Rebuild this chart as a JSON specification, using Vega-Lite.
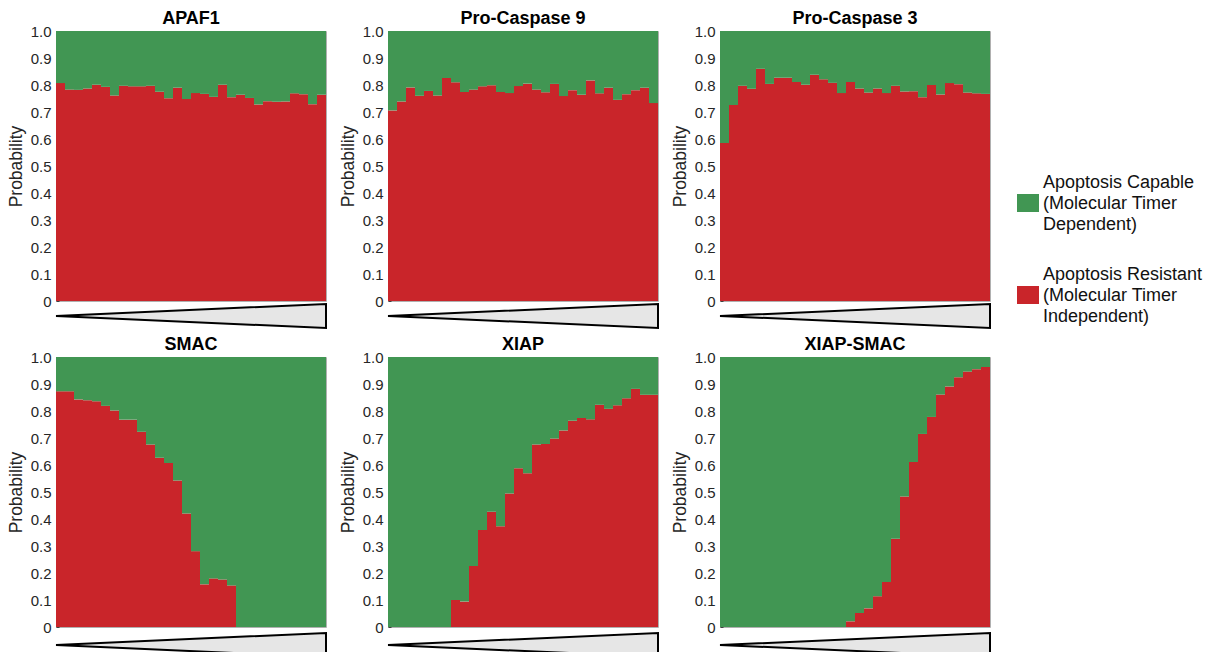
{
  "$schema": "https://vega.github.io/schema/vega-lite/v6.json",
  "padding": {"left": 6, "top": 9, "right": 5, "bottom": 5},
  "datasets": {
    "d": [
      {"g":"APAF1","i":1,"Resistant":0.807,"Capable":0.193},{"g":"APAF1","i":2,"Resistant":0.783,"Capable":0.217},{"g":"APAF1","i":3,"Resistant":0.782,"Capable":0.218},{"g":"APAF1","i":4,"Resistant":0.787,"Capable":0.213},{"g":"APAF1","i":5,"Resistant":0.801,"Capable":0.199},{"g":"APAF1","i":6,"Resistant":0.793,"Capable":0.207},{"g":"APAF1","i":7,"Resistant":0.761,"Capable":0.239},{"g":"APAF1","i":8,"Resistant":0.797,"Capable":0.203},{"g":"APAF1","i":9,"Resistant":0.795,"Capable":0.205},{"g":"APAF1","i":10,"Resistant":0.795,"Capable":0.205},
      {"g":"APAF1","i":11,"Resistant":0.797,"Capable":0.203},{"g":"APAF1","i":12,"Resistant":0.775,"Capable":0.225},{"g":"APAF1","i":13,"Resistant":0.751,"Capable":0.249},{"g":"APAF1","i":14,"Resistant":0.790,"Capable":0.210},{"g":"APAF1","i":15,"Resistant":0.748,"Capable":0.252},{"g":"APAF1","i":16,"Resistant":0.770,"Capable":0.230},{"g":"APAF1","i":17,"Resistant":0.767,"Capable":0.233},{"g":"APAF1","i":18,"Resistant":0.756,"Capable":0.244},{"g":"APAF1","i":19,"Resistant":0.801,"Capable":0.199},{"g":"APAF1","i":20,"Resistant":0.755,"Capable":0.245},
      {"g":"APAF1","i":21,"Resistant":0.764,"Capable":0.236},{"g":"APAF1","i":22,"Resistant":0.752,"Capable":0.248},{"g":"APAF1","i":23,"Resistant":0.728,"Capable":0.272},{"g":"APAF1","i":24,"Resistant":0.740,"Capable":0.260},{"g":"APAF1","i":25,"Resistant":0.738,"Capable":0.262},{"g":"APAF1","i":26,"Resistant":0.739,"Capable":0.261},{"g":"APAF1","i":27,"Resistant":0.769,"Capable":0.231},{"g":"APAF1","i":28,"Resistant":0.766,"Capable":0.234},{"g":"APAF1","i":29,"Resistant":0.729,"Capable":0.271},{"g":"APAF1","i":30,"Resistant":0.764,"Capable":0.236},

      {"g":"Pro-Caspase 9","i":1,"Resistant":0.706,"Capable":0.294},{"g":"Pro-Caspase 9","i":2,"Resistant":0.739,"Capable":0.261},{"g":"Pro-Caspase 9","i":3,"Resistant":0.791,"Capable":0.209},{"g":"Pro-Caspase 9","i":4,"Resistant":0.760,"Capable":0.240},{"g":"Pro-Caspase 9","i":5,"Resistant":0.778,"Capable":0.222},{"g":"Pro-Caspase 9","i":6,"Resistant":0.761,"Capable":0.239},{"g":"Pro-Caspase 9","i":7,"Resistant":0.826,"Capable":0.174},{"g":"Pro-Caspase 9","i":8,"Resistant":0.810,"Capable":0.190},{"g":"Pro-Caspase 9","i":9,"Resistant":0.774,"Capable":0.226},{"g":"Pro-Caspase 9","i":10,"Resistant":0.783,"Capable":0.217},
      {"g":"Pro-Caspase 9","i":11,"Resistant":0.795,"Capable":0.205},{"g":"Pro-Caspase 9","i":12,"Resistant":0.799,"Capable":0.201},{"g":"Pro-Caspase 9","i":13,"Resistant":0.774,"Capable":0.226},{"g":"Pro-Caspase 9","i":14,"Resistant":0.770,"Capable":0.230},{"g":"Pro-Caspase 9","i":15,"Resistant":0.796,"Capable":0.204},{"g":"Pro-Caspase 9","i":16,"Resistant":0.805,"Capable":0.195},{"g":"Pro-Caspase 9","i":17,"Resistant":0.783,"Capable":0.217},{"g":"Pro-Caspase 9","i":18,"Resistant":0.773,"Capable":0.227},{"g":"Pro-Caspase 9","i":19,"Resistant":0.804,"Capable":0.196},{"g":"Pro-Caspase 9","i":20,"Resistant":0.759,"Capable":0.241},
      {"g":"Pro-Caspase 9","i":21,"Resistant":0.781,"Capable":0.219},{"g":"Pro-Caspase 9","i":22,"Resistant":0.764,"Capable":0.236},{"g":"Pro-Caspase 9","i":23,"Resistant":0.817,"Capable":0.183},{"g":"Pro-Caspase 9","i":24,"Resistant":0.769,"Capable":0.231},{"g":"Pro-Caspase 9","i":25,"Resistant":0.790,"Capable":0.210},{"g":"Pro-Caspase 9","i":26,"Resistant":0.745,"Capable":0.255},{"g":"Pro-Caspase 9","i":27,"Resistant":0.766,"Capable":0.234},{"g":"Pro-Caspase 9","i":28,"Resistant":0.781,"Capable":0.219},{"g":"Pro-Caspase 9","i":29,"Resistant":0.790,"Capable":0.210},{"g":"Pro-Caspase 9","i":30,"Resistant":0.733,"Capable":0.267},

      {"g":"Pro-Caspase 3","i":1,"Resistant":0.585,"Capable":0.415},{"g":"Pro-Caspase 3","i":2,"Resistant":0.726,"Capable":0.274},{"g":"Pro-Caspase 3","i":3,"Resistant":0.797,"Capable":0.203},{"g":"Pro-Caspase 3","i":4,"Resistant":0.786,"Capable":0.214},{"g":"Pro-Caspase 3","i":5,"Resistant":0.860,"Capable":0.140},{"g":"Pro-Caspase 3","i":6,"Resistant":0.804,"Capable":0.196},{"g":"Pro-Caspase 3","i":7,"Resistant":0.827,"Capable":0.173},{"g":"Pro-Caspase 3","i":8,"Resistant":0.827,"Capable":0.173},{"g":"Pro-Caspase 3","i":9,"Resistant":0.811,"Capable":0.189},{"g":"Pro-Caspase 3","i":10,"Resistant":0.801,"Capable":0.199},
      {"g":"Pro-Caspase 3","i":11,"Resistant":0.838,"Capable":0.162},{"g":"Pro-Caspase 3","i":12,"Resistant":0.821,"Capable":0.179},{"g":"Pro-Caspase 3","i":13,"Resistant":0.808,"Capable":0.192},{"g":"Pro-Caspase 3","i":14,"Resistant":0.770,"Capable":0.230},{"g":"Pro-Caspase 3","i":15,"Resistant":0.811,"Capable":0.189},{"g":"Pro-Caspase 3","i":16,"Resistant":0.787,"Capable":0.213},{"g":"Pro-Caspase 3","i":17,"Resistant":0.772,"Capable":0.228},{"g":"Pro-Caspase 3","i":18,"Resistant":0.787,"Capable":0.213},{"g":"Pro-Caspase 3","i":19,"Resistant":0.770,"Capable":0.230},{"g":"Pro-Caspase 3","i":20,"Resistant":0.797,"Capable":0.203},
      {"g":"Pro-Caspase 3","i":21,"Resistant":0.776,"Capable":0.224},{"g":"Pro-Caspase 3","i":22,"Resistant":0.777,"Capable":0.223},{"g":"Pro-Caspase 3","i":23,"Resistant":0.755,"Capable":0.245},{"g":"Pro-Caspase 3","i":24,"Resistant":0.800,"Capable":0.200},{"g":"Pro-Caspase 3","i":25,"Resistant":0.765,"Capable":0.235},{"g":"Pro-Caspase 3","i":26,"Resistant":0.807,"Capable":0.193},{"g":"Pro-Caspase 3","i":27,"Resistant":0.803,"Capable":0.197},{"g":"Pro-Caspase 3","i":28,"Resistant":0.772,"Capable":0.228},{"g":"Pro-Caspase 3","i":29,"Resistant":0.769,"Capable":0.231},{"g":"Pro-Caspase 3","i":30,"Resistant":0.767,"Capable":0.233},

      {"g":"SMAC","i":1,"Resistant":0.873,"Capable":0.127},{"g":"SMAC","i":2,"Resistant":0.873,"Capable":0.127},{"g":"SMAC","i":3,"Resistant":0.843,"Capable":0.157},{"g":"SMAC","i":4,"Resistant":0.840,"Capable":0.160},{"g":"SMAC","i":5,"Resistant":0.836,"Capable":0.164},{"g":"SMAC","i":6,"Resistant":0.819,"Capable":0.181},{"g":"SMAC","i":7,"Resistant":0.802,"Capable":0.198},{"g":"SMAC","i":8,"Resistant":0.768,"Capable":0.232},{"g":"SMAC","i":9,"Resistant":0.768,"Capable":0.232},{"g":"SMAC","i":10,"Resistant":0.723,"Capable":0.277},
      {"g":"SMAC","i":11,"Resistant":0.676,"Capable":0.324},{"g":"SMAC","i":12,"Resistant":0.627,"Capable":0.373},{"g":"SMAC","i":13,"Resistant":0.607,"Capable":0.393},{"g":"SMAC","i":14,"Resistant":0.543,"Capable":0.457},{"g":"SMAC","i":15,"Resistant":0.420,"Capable":0.580},{"g":"SMAC","i":16,"Resistant":0.281,"Capable":0.719},{"g":"SMAC","i":17,"Resistant":0.158,"Capable":0.842},{"g":"SMAC","i":18,"Resistant":0.180,"Capable":0.820},{"g":"SMAC","i":19,"Resistant":0.176,"Capable":0.824},{"g":"SMAC","i":20,"Resistant":0.154,"Capable":0.846},
      {"g":"SMAC","i":21,"Resistant":0,"Capable":1},{"g":"SMAC","i":22,"Resistant":0,"Capable":1},{"g":"SMAC","i":23,"Resistant":0,"Capable":1},{"g":"SMAC","i":24,"Resistant":0,"Capable":1},{"g":"SMAC","i":25,"Resistant":0,"Capable":1},{"g":"SMAC","i":26,"Resistant":0,"Capable":1},{"g":"SMAC","i":27,"Resistant":0,"Capable":1},{"g":"SMAC","i":28,"Resistant":0,"Capable":1},{"g":"SMAC","i":29,"Resistant":0,"Capable":1},{"g":"SMAC","i":30,"Resistant":0,"Capable":1},

      {"g":"XIAP","i":1,"Resistant":0,"Capable":1},{"g":"XIAP","i":2,"Resistant":0,"Capable":1},{"g":"XIAP","i":3,"Resistant":0,"Capable":1},{"g":"XIAP","i":4,"Resistant":0,"Capable":1},{"g":"XIAP","i":5,"Resistant":0,"Capable":1},{"g":"XIAP","i":6,"Resistant":0,"Capable":1},{"g":"XIAP","i":7,"Resistant":0,"Capable":1},{"g":"XIAP","i":8,"Resistant":0.100,"Capable":0.900},{"g":"XIAP","i":9,"Resistant":0.094,"Capable":0.906},{"g":"XIAP","i":10,"Resistant":0.226,"Capable":0.774},
      {"g":"XIAP","i":11,"Resistant":0.359,"Capable":0.641},{"g":"XIAP","i":12,"Resistant":0.427,"Capable":0.573},{"g":"XIAP","i":13,"Resistant":0.373,"Capable":0.627},{"g":"XIAP","i":14,"Resistant":0.494,"Capable":0.506},{"g":"XIAP","i":15,"Resistant":0.588,"Capable":0.412},{"g":"XIAP","i":16,"Resistant":0.569,"Capable":0.431},{"g":"XIAP","i":17,"Resistant":0.676,"Capable":0.324},{"g":"XIAP","i":18,"Resistant":0.678,"Capable":0.322},{"g":"XIAP","i":19,"Resistant":0.698,"Capable":0.302},{"g":"XIAP","i":20,"Resistant":0.728,"Capable":0.272},
      {"g":"XIAP","i":21,"Resistant":0.764,"Capable":0.236},{"g":"XIAP","i":22,"Resistant":0.774,"Capable":0.226},{"g":"XIAP","i":23,"Resistant":0.769,"Capable":0.231},{"g":"XIAP","i":24,"Resistant":0.823,"Capable":0.177},{"g":"XIAP","i":25,"Resistant":0.808,"Capable":0.192},{"g":"XIAP","i":26,"Resistant":0.821,"Capable":0.179},{"g":"XIAP","i":27,"Resistant":0.847,"Capable":0.153},{"g":"XIAP","i":28,"Resistant":0.882,"Capable":0.118},{"g":"XIAP","i":29,"Resistant":0.860,"Capable":0.140},{"g":"XIAP","i":30,"Resistant":0.860,"Capable":0.140},

      {"g":"XIAP-SMAC","i":1,"Resistant":0,"Capable":1},{"g":"XIAP-SMAC","i":2,"Resistant":0,"Capable":1},{"g":"XIAP-SMAC","i":3,"Resistant":0,"Capable":1},{"g":"XIAP-SMAC","i":4,"Resistant":0,"Capable":1},{"g":"XIAP-SMAC","i":5,"Resistant":0,"Capable":1},{"g":"XIAP-SMAC","i":6,"Resistant":0,"Capable":1},{"g":"XIAP-SMAC","i":7,"Resistant":0,"Capable":1},{"g":"XIAP-SMAC","i":8,"Resistant":0,"Capable":1},{"g":"XIAP-SMAC","i":9,"Resistant":0,"Capable":1},{"g":"XIAP-SMAC","i":10,"Resistant":0,"Capable":1},
      {"g":"XIAP-SMAC","i":11,"Resistant":0,"Capable":1},{"g":"XIAP-SMAC","i":12,"Resistant":0,"Capable":1},{"g":"XIAP-SMAC","i":13,"Resistant":0,"Capable":1},{"g":"XIAP-SMAC","i":14,"Resistant":0,"Capable":1},{"g":"XIAP-SMAC","i":15,"Resistant":0.021,"Capable":0.979},{"g":"XIAP-SMAC","i":16,"Resistant":0.052,"Capable":0.948},{"g":"XIAP-SMAC","i":17,"Resistant":0.069,"Capable":0.931},{"g":"XIAP-SMAC","i":18,"Resistant":0.114,"Capable":0.886},{"g":"XIAP-SMAC","i":19,"Resistant":0.167,"Capable":0.833},{"g":"XIAP-SMAC","i":20,"Resistant":0.327,"Capable":0.673},
      {"g":"XIAP-SMAC","i":21,"Resistant":0.483,"Capable":0.517},{"g":"XIAP-SMAC","i":22,"Resistant":0.611,"Capable":0.389},{"g":"XIAP-SMAC","i":23,"Resistant":0.715,"Capable":0.285},{"g":"XIAP-SMAC","i":24,"Resistant":0.778,"Capable":0.222},{"g":"XIAP-SMAC","i":25,"Resistant":0.861,"Capable":0.139},{"g":"XIAP-SMAC","i":26,"Resistant":0.891,"Capable":0.109},{"g":"XIAP-SMAC","i":27,"Resistant":0.925,"Capable":0.075},{"g":"XIAP-SMAC","i":28,"Resistant":0.946,"Capable":0.054},{"g":"XIAP-SMAC","i":29,"Resistant":0.955,"Capable":0.045},{"g":"XIAP-SMAC","i":30,"Resistant":0.963,"Capable":0.037}
    ],
    "w": [{"c": 0, "lo": 0, "hi": 0}, {"c": 1, "lo": -1, "hi": 1}]
  },
  "data": {"name": "d"},
  "spacing": 3,
  "vconcat": [
    {"spacing": 8, "hconcat": [
      {"spacing": 3, "bounds": "flush", "vconcat": [
        {"title": "APAF1", "width": 270, "height": 270,
         "transform": [{"filter": "datum.g === 'APAF1'"}, {"fold": ["Resistant", "Capable"], "as": ["state", "p"]}],
         "mark": {"type": "bar"},
         "encoding": {
           "x": {"field": "i", "type": "ordinal", "axis": null, "scale": {"paddingInner": 0, "paddingOuter": 0}},
           "y": {"field": "p", "type": "quantitative", "stack": "zero", "scale": {"domain": [0, 1], "nice": false}, "axis": {"title": "Probability", "values": [0, 0.1, 0.2, 0.3, 0.4, 0.5, 0.6, 0.7, 0.8, 0.9, 1], "labelExpr": "datum.value === 0 ? '0' : format(datum.value, '.1f')"}},
           "color": {"field": "state", "type": "nominal", "scale": {"domain": ["Capable", "Resistant"], "range": ["#419653", "#c9252a"]}, "legend": {"labelExpr": "datum.value === 'Capable' ? ['Apoptosis Capable', '(Molecular Timer', 'Dependent)'] : ['Apoptosis Resistant', '(Molecular Timer', 'Independent)']", "encode": {"symbols": {"update": {"fill": {"signal": "datum.value === 'Capable' ? '#4da000' : '#d83b50'"}, "opacity": {"value": 1}}}, "labels": {"update": {"lineHeight": {"value": 21}, "dy": {"value": -20}}}}}},
           "order": {"field": "state", "sort": "descending"}
         }},
        {"data": {"name": "w"}, "width": 270, "height": 24, "view": {"stroke": null},
         "mark": {"type": "area", "fill": "#e6e6e6", "stroke": "black", "strokeWidth": 2, "line": false, "clip": false},
         "encoding": {
           "x": {"field": "c", "type": "quantitative", "axis": null, "scale": {"domain": [0, 1], "nice": false, "zero": false}},
           "y": {"field": "lo", "type": "quantitative", "axis": null, "scale": {"domain": [-1, 1], "nice": false}},
           "y2": {"field": "hi"}
         }}
      ]},
      {"spacing": 3, "bounds": "flush", "vconcat": [
        {"title": "Pro-Caspase 9", "width": 270, "height": 270,
         "transform": [{"filter": "datum.g === 'Pro-Caspase 9'"}, {"fold": ["Resistant", "Capable"], "as": ["state", "p"]}],
         "mark": {"type": "bar"},
         "encoding": {
           "x": {"field": "i", "type": "ordinal", "axis": null, "scale": {"paddingInner": 0, "paddingOuter": 0}},
           "y": {"field": "p", "type": "quantitative", "stack": "zero", "scale": {"domain": [0, 1], "nice": false}, "axis": {"title": "Probability", "values": [0, 0.1, 0.2, 0.3, 0.4, 0.5, 0.6, 0.7, 0.8, 0.9, 1], "labelExpr": "datum.value === 0 ? '0' : format(datum.value, '.1f')"}},
           "color": {"field": "state", "type": "nominal", "scale": {"domain": ["Capable", "Resistant"], "range": ["#419653", "#c9252a"]}, "legend": {"labelExpr": "datum.value === 'Capable' ? ['Apoptosis Capable', '(Molecular Timer', 'Dependent)'] : ['Apoptosis Resistant', '(Molecular Timer', 'Independent)']", "encode": {"symbols": {"update": {"fill": {"signal": "datum.value === 'Capable' ? '#4da000' : '#d83b50'"}, "opacity": {"value": 1}}}, "labels": {"update": {"lineHeight": {"value": 21}, "dy": {"value": -20}}}}}},
           "order": {"field": "state", "sort": "descending"}
         }},
        {"data": {"name": "w"}, "width": 270, "height": 24, "view": {"stroke": null},
         "mark": {"type": "area", "fill": "#e6e6e6", "stroke": "black", "strokeWidth": 2, "line": false, "clip": false},
         "encoding": {
           "x": {"field": "c", "type": "quantitative", "axis": null, "scale": {"domain": [0, 1], "nice": false, "zero": false}},
           "y": {"field": "lo", "type": "quantitative", "axis": null, "scale": {"domain": [-1, 1], "nice": false}},
           "y2": {"field": "hi"}
         }}
      ]},
      {"spacing": 3, "bounds": "flush", "vconcat": [
        {"title": "Pro-Caspase 3", "width": 270, "height": 270,
         "transform": [{"filter": "datum.g === 'Pro-Caspase 3'"}, {"fold": ["Resistant", "Capable"], "as": ["state", "p"]}],
         "mark": {"type": "bar"},
         "encoding": {
           "x": {"field": "i", "type": "ordinal", "axis": null, "scale": {"paddingInner": 0, "paddingOuter": 0}},
           "y": {"field": "p", "type": "quantitative", "stack": "zero", "scale": {"domain": [0, 1], "nice": false}, "axis": {"title": "Probability", "values": [0, 0.1, 0.2, 0.3, 0.4, 0.5, 0.6, 0.7, 0.8, 0.9, 1], "labelExpr": "datum.value === 0 ? '0' : format(datum.value, '.1f')"}},
           "color": {"field": "state", "type": "nominal", "scale": {"domain": ["Capable", "Resistant"], "range": ["#419653", "#c9252a"]}, "legend": {"labelExpr": "datum.value === 'Capable' ? ['Apoptosis Capable', '(Molecular Timer', 'Dependent)'] : ['Apoptosis Resistant', '(Molecular Timer', 'Independent)']", "encode": {"symbols": {"update": {"fill": {"signal": "datum.value === 'Capable' ? '#4da000' : '#d83b50'"}, "opacity": {"value": 1}}}, "labels": {"update": {"lineHeight": {"value": 21}, "dy": {"value": -20}}}}}},
           "order": {"field": "state", "sort": "descending"}
         }},
        {"data": {"name": "w"}, "width": 270, "height": 24, "view": {"stroke": null},
         "mark": {"type": "area", "fill": "#e6e6e6", "stroke": "black", "strokeWidth": 2, "line": false, "clip": false},
         "encoding": {
           "x": {"field": "c", "type": "quantitative", "axis": null, "scale": {"domain": [0, 1], "nice": false, "zero": false}},
           "y": {"field": "lo", "type": "quantitative", "axis": null, "scale": {"domain": [-1, 1], "nice": false}},
           "y2": {"field": "hi"}
         }}
      ]}
    ]},
    {"spacing": 8, "hconcat": [
      {"spacing": 6, "bounds": "flush", "vconcat": [
        {"title": "SMAC", "width": 270, "height": 270,
         "transform": [{"filter": "datum.g === 'SMAC'"}, {"fold": ["Resistant", "Capable"], "as": ["state", "p"]}],
         "mark": {"type": "bar"},
         "encoding": {
           "x": {"field": "i", "type": "ordinal", "axis": null, "scale": {"paddingInner": 0, "paddingOuter": 0}},
           "y": {"field": "p", "type": "quantitative", "stack": "zero", "scale": {"domain": [0, 1], "nice": false}, "axis": {"title": "Probability", "values": [0, 0.1, 0.2, 0.3, 0.4, 0.5, 0.6, 0.7, 0.8, 0.9, 1], "labelExpr": "datum.value === 0 ? '0' : format(datum.value, '.1f')"}},
           "color": {"field": "state", "type": "nominal", "scale": {"domain": ["Capable", "Resistant"], "range": ["#419653", "#c9252a"]}, "legend": {"labelExpr": "datum.value === 'Capable' ? ['Apoptosis Capable', '(Molecular Timer', 'Dependent)'] : ['Apoptosis Resistant', '(Molecular Timer', 'Independent)']", "encode": {"symbols": {"update": {"fill": {"signal": "datum.value === 'Capable' ? '#4da000' : '#d83b50'"}, "opacity": {"value": 1}}}, "labels": {"update": {"lineHeight": {"value": 21}, "dy": {"value": -20}}}}}},
           "order": {"field": "state", "sort": "descending"}
         }},
        {"data": {"name": "w"}, "width": 270, "height": 24, "view": {"stroke": null},
         "mark": {"type": "area", "fill": "#e6e6e6", "stroke": "black", "strokeWidth": 2, "line": false, "clip": false},
         "encoding": {
           "x": {"field": "c", "type": "quantitative", "axis": null, "scale": {"domain": [0, 1], "nice": false, "zero": false}},
           "y": {"field": "lo", "type": "quantitative", "axis": null, "scale": {"domain": [-1, 1], "nice": false}},
           "y2": {"field": "hi"}
         }}
      ]},
      {"spacing": 6, "bounds": "flush", "vconcat": [
        {"title": "XIAP", "width": 270, "height": 270,
         "transform": [{"filter": "datum.g === 'XIAP'"}, {"fold": ["Resistant", "Capable"], "as": ["state", "p"]}],
         "mark": {"type": "bar"},
         "encoding": {
           "x": {"field": "i", "type": "ordinal", "axis": null, "scale": {"paddingInner": 0, "paddingOuter": 0}},
           "y": {"field": "p", "type": "quantitative", "stack": "zero", "scale": {"domain": [0, 1], "nice": false}, "axis": {"title": "Probability", "values": [0, 0.1, 0.2, 0.3, 0.4, 0.5, 0.6, 0.7, 0.8, 0.9, 1], "labelExpr": "datum.value === 0 ? '0' : format(datum.value, '.1f')"}},
           "color": {"field": "state", "type": "nominal", "scale": {"domain": ["Capable", "Resistant"], "range": ["#419653", "#c9252a"]}, "legend": {"labelExpr": "datum.value === 'Capable' ? ['Apoptosis Capable', '(Molecular Timer', 'Dependent)'] : ['Apoptosis Resistant', '(Molecular Timer', 'Independent)']", "encode": {"symbols": {"update": {"fill": {"signal": "datum.value === 'Capable' ? '#4da000' : '#d83b50'"}, "opacity": {"value": 1}}}, "labels": {"update": {"lineHeight": {"value": 21}, "dy": {"value": -20}}}}}},
           "order": {"field": "state", "sort": "descending"}
         }},
        {"data": {"name": "w"}, "width": 270, "height": 24, "view": {"stroke": null},
         "mark": {"type": "area", "fill": "#e6e6e6", "stroke": "black", "strokeWidth": 2, "line": false, "clip": false},
         "encoding": {
           "x": {"field": "c", "type": "quantitative", "axis": null, "scale": {"domain": [0, 1], "nice": false, "zero": false}},
           "y": {"field": "lo", "type": "quantitative", "axis": null, "scale": {"domain": [-1, 1], "nice": false}},
           "y2": {"field": "hi"}
         }}
      ]},
      {"spacing": 6, "bounds": "flush", "vconcat": [
        {"title": "XIAP-SMAC", "width": 270, "height": 270,
         "transform": [{"filter": "datum.g === 'XIAP-SMAC'"}, {"fold": ["Resistant", "Capable"], "as": ["state", "p"]}],
         "mark": {"type": "bar"},
         "encoding": {
           "x": {"field": "i", "type": "ordinal", "axis": null, "scale": {"paddingInner": 0, "paddingOuter": 0}},
           "y": {"field": "p", "type": "quantitative", "stack": "zero", "scale": {"domain": [0, 1], "nice": false}, "axis": {"title": "Probability", "values": [0, 0.1, 0.2, 0.3, 0.4, 0.5, 0.6, 0.7, 0.8, 0.9, 1], "labelExpr": "datum.value === 0 ? '0' : format(datum.value, '.1f')"}},
           "color": {"field": "state", "type": "nominal", "scale": {"domain": ["Capable", "Resistant"], "range": ["#419653", "#c9252a"]}, "legend": {"labelExpr": "datum.value === 'Capable' ? ['Apoptosis Capable', '(Molecular Timer', 'Dependent)'] : ['Apoptosis Resistant', '(Molecular Timer', 'Independent)']", "encode": {"symbols": {"update": {"fill": {"signal": "datum.value === 'Capable' ? '#4da000' : '#d83b50'"}, "opacity": {"value": 1}}}, "labels": {"update": {"lineHeight": {"value": 21}, "dy": {"value": -20}}}}}},
           "order": {"field": "state", "sort": "descending"}
         }},
        {"data": {"name": "w"}, "width": 270, "height": 24, "view": {"stroke": null},
         "mark": {"type": "area", "fill": "#e6e6e6", "stroke": "black", "strokeWidth": 2, "line": false, "clip": false},
         "encoding": {
           "x": {"field": "c", "type": "quantitative", "axis": null, "scale": {"domain": [0, 1], "nice": false, "zero": false}},
           "y": {"field": "lo", "type": "quantitative", "axis": null, "scale": {"domain": [-1, 1], "nice": false}},
           "y2": {"field": "hi"}
         }}
      ]}
    ]}
  ],
  "config": {
    "font": "Liberation Sans",
    "view": {"stroke": "#b0b0b0", "strokeWidth": 1},
    "title": {"fontSize": 18, "fontWeight": "bold", "color": "#000000", "offset": -4, "frame": "group", "anchor": "middle"},
    "axisY": {"labelFontSize": 15, "titleFontSize": 17.5, "titleFontWeight": "normal", "labelColor": "#262626", "titleColor": "#262626", "domain": false, "tickSize": -3, "tickColor": "#404040", "tickWidth": 1, "labelPadding": 8, "titlePadding": 5, "grid": false, "labelFlush": false, "labelOverlap": false, "zindex": 1},
    "legend": {"orient": "none", "legendX": 962, "legendY": 162, "title": null, "labelFontSize": 18, "labelColor": "#111111", "labelLimit": 400, "symbolType": "M-1.1,-0.9H1.1V0.9H-1.1Z", "symbolSize": 400, "symbolStrokeWidth": 0, "rowPadding": 32, "labelOffset": 5, "padding": 0}
  }
}
